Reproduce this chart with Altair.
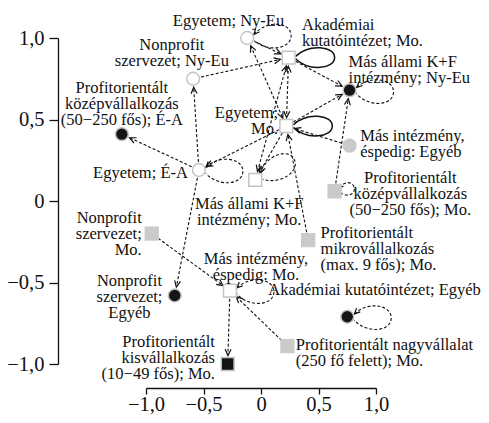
import math
import altair as alt
import pandas as pd

# ---------------- data ----------------
node_id = ["egy_nyeu", "akad_mo", "nonp_nyeu", "masall_nyeu", "kozep_ea", "egy_mo",
           "masint_egyeb", "egy_ea", "masall_mo", "kozep_mo", "nonp_mo", "mikro_mo",
           "masint_mo", "nonp_egyeb", "akad_egyeb", "nagy_mo", "kis_mo"]
node_label = [
    "Egyetem; Ny-Eu",
    "Akadémiai\nkutatóintézet; Mo.",
    "Nonprofit\nszervezet; Ny-Eu",
    "Más állami K+F\nintézmény; Ny-Eu",
    "Profitorientált\nközépvállalkozás\n(50−250 fős); É-A",
    "Egyetem;\nMo.",
    "Más intézmény,\néspedig: Egyéb",
    "Egyetem; É-A",
    "Más állami K+F\nintézmény; Mo.",
    "Profitorientált\nközépvállalkozás\n(50−250 fős); Mo.",
    "Nonprofit\nszervezet;\nMo.",
    "Profitorientált\nmikrovállalkozás\n(max. 9 fős); Mo.",
    "Más intézmény,\néspedig: Mo.",
    "Nonprofit\nszervezet;\nEgyéb",
    "Akadémiai kutatóintézet; Egyéb",
    "Profitorientált nagyvállalat\n(250 fő felett); Mo.",
    "Profitorientált\nkisvállalkozás\n(10−49 fős); Mo.",
]
node_x = [-0.12, 0.24, -0.59, 0.77, -1.21, 0.22, 0.77, -0.54, -0.05, 0.64,
          -0.95, 0.41, -0.27, -0.75, 0.75, 0.23, -0.29]
node_y = [1.00, 0.88, 0.75, 0.68, 0.41, 0.46, 0.34, 0.19, 0.13, 0.06,
          -0.20, -0.24, -0.55, -0.58, -0.71, -0.89, -1.00]
node_tone = ["fehér", "fehér", "fehér", "fekete", "fekete", "fehér", "szürke", "fehér",
             "fehér", "szürke", "szürke", "szürke", "fehér", "fekete", "fekete", "szürke", "fekete"]

edge_from = ["egy_nyeu", "egy_nyeu", "egy_mo", "nonp_nyeu", "egy_ea", "egy_ea", "egy_mo",
             "egy_ea", "akad_mo", "egy_mo", "kozep_mo", "masint_egyeb", "akad_mo", "egy_mo",
             "masall_mo", "akad_mo", "egy_mo", "mikro_mo", "nonp_mo", "masint_mo", "nagy_mo"]
edge_to = ["akad_mo", "egy_mo", "egy_nyeu", "akad_mo", "nonp_nyeu", "kozep_ea", "egy_ea",
           "nonp_egyeb", "masall_nyeu", "masall_nyeu", "masall_nyeu", "egy_mo", "egy_mo", "akad_mo",
           "akad_mo", "masall_mo", "masall_mo", "egy_mo", "masint_mo", "kis_mo", "masint_mo"]

loop_node = ["egy_nyeu", "masall_nyeu", "egy_ea", "masall_mo", "masint_mo", "akad_egyeb",
             "kozep_mo", "akad_mo", "egy_mo"]
loop_kind = ["szaggatott"] * 6 + ["kicsi"] + ["folytonos"] * 2

tick_values = [-1.0, -0.5, 0.0, 0.5, 1.0]

# ---------------- layout / style (not data) ----------------
W, H = 230, 326
PX, PY = W / 2, H / 2
loop_angle = [356, 3, 2, 332, 2, 2, 350, 0, 0]
lab_align = ["center", "left", "center", "left", "center", "right", "left", "right", "center",
             "center", "right", "left", "center", "center", "left", "left", "right"]
lab_dx = [-18.7, 13.4, -21.3, -1, 0, -8.2, 10.7, -11, -6, 75.7, -10, 12.4, 26, -45.3, -79, 8.4, -12.7]
lab_dy = [-17.3, -32.3, -33.3, -28.3, -46.6, -13.3, -10, 3, 24, -13.6, -15.3, -6.7, -31.3, -15,
          -26.7, -0.7, -21.6]

FONT = "Liberation Serif"
INK = "#111111"
CHEVRON = "M-0.75,1.6L0,0L0.75,1.6"
LOOP = "M0.32,-0.14C0.9,-0.75 2.0,-0.62 2.0,0C2.0,0.62 0.9,0.75 0.32,0.14"
LOOP_HEAD = "M0.581,-0.242L0.32,-0.14L0.409,-0.405"
LOOP_SOLID = "M0.3,-0.05C0.9,-0.62 2.0,-0.5 2.0,0C2.0,0.5 0.9,0.62 0.3,0.05"
SMALL_LOOP = "M0.55,-0.25C1.2,-0.9 2.0,-0.62 2.0,0C2.0,0.62 1.2,0.9 0.55,0.25"
SMALL_HEAD = "M0.95,-0.35L0.55,-0.25L0.72,-0.62"


def to_px(x, y):
    return (x + 1) * PX, (1 - y) * PY


def to_data(px, py):
    return px / PX - 1, 1 - py / PY


pos = {n: (x, y) for n, x, y in zip(node_id, node_x, node_y)}

nodes = pd.DataFrame({
    "id": node_id, "x": node_x, "y": node_y, "tone": node_tone,
    "forma": ["négyzet" if l.endswith("Mo.") else "kör" for l in node_label],
})

directed = set(zip(edge_from, edge_to))
line_rows, head_rows, seen = [], [], set()
for a, b in zip(edge_from, edge_to):
    p1 = to_px(*pos[a])
    p2 = to_px(*pos[b])
    dx, dy = p2[0] - p1[0], p2[1] - p1[1]
    L = math.hypot(dx, dy)
    ux, uy = dx / L, dy / L
    tip = to_data(p2[0] - ux * 8.5, p2[1] - uy * 8.5)
    head_rows.append({"hx": tip[0], "hy": tip[1],
                      "ang": math.degrees(math.atan2(ux, -uy)) % 360})
    key = frozenset((a, b))
    if key in seen:
        continue
    seen.add(key)
    s0 = 8.5 if (b, a) in directed else 8
    s = to_data(p1[0] + ux * s0, p1[1] + uy * s0)
    line_rows.append({"x1": s[0], "y1": s[1], "x2": tip[0], "y2": tip[1]})
lines = pd.DataFrame(line_rows)
heads = pd.DataFrame(head_rows)

loops = pd.DataFrame({
    "x": [pos[n][0] for n in loop_node],
    "y": [pos[n][1] for n in loop_node],
    "ang": loop_angle,
    "kind": loop_kind,
})

lab_rows = []
for i, lab in enumerate(node_label):
    px, py = to_px(node_x[i], node_y[i])
    lx, ly = to_data(px + lab_dx[i], py + lab_dy[i])
    lab_rows.append({"lx": lx, "ly": ly, "label": lab, "align": lab_align[i]})
labels = pd.DataFrame(lab_rows)

# ---------------- chart ----------------
xs = alt.Scale(domain=[-1, 1], nice=False, zero=False)
ys = alt.Scale(domain=[-1, 1], nice=False, zero=False)
label_expr = "datum.value == 0 ? '0' : replace(replace(format(datum.value, '.1f'), '.', ','), '-', '−')"
x_axis = alt.Axis(values=tick_values, offset=24, tickSize=6, tickWidth=1.3, domainWidth=1.3,
                  domainColor=INK, tickColor=INK, grid=False, labelExpr=label_expr,
                  labelFont=FONT, labelFontSize=20.5, labelColor=INK, labelPadding=0,
                  labelFlush=False, labelOverlap=False, title="")
y_axis = alt.Axis(values=tick_values, offset=88, tickSize=9, tickWidth=1.3, domainWidth=1.3,
                  domainColor=INK, tickColor=INK, grid=False, labelExpr=label_expr,
                  labelFont=FONT, labelFontSize=20.5, labelColor=INK, labelPadding=5,
                  labelOverlap=False, title="")


def X(f):
    return alt.X(f, type="quantitative", scale=xs, axis=x_axis)


def Y(f):
    return alt.Y(f, type="quantitative", scale=ys, axis=y_axis)


edge_lines = alt.Chart(lines).mark_rule(strokeDash=[3, 2], strokeWidth=1.1, color=INK).encode(
    x=X("x1"), y=Y("y1"), x2="x2:Q", y2="y2:Q")
edge_heads = alt.Chart(heads).mark_point(shape=CHEVRON, filled=False, size=64, strokeWidth=1.2,
                                         color=INK, opacity=1).encode(
    x=X("hx"), y=Y("hy"), angle=alt.Angle("ang:Q", scale=None))

dashed = loops[loops.kind == "szaggatott"]
small = loops[loops.kind == "kicsi"]
solid = loops[loops.kind == "folytonos"]
loop_d = alt.Chart(dashed).mark_point(shape=LOOP, filled=False, size=1936, strokeDash=[3, 2],
                                      strokeWidth=1.1, color=INK, opacity=1).encode(
    x=X("x"), y=Y("y"), angle=alt.Angle("ang:Q", scale=None))
loop_h = alt.Chart(dashed).mark_point(shape=LOOP_HEAD, filled=False, size=1936, strokeWidth=1.2,
                                      color=INK, opacity=1).encode(
    x=X("x"), y=Y("y"), angle=alt.Angle("ang:Q", scale=None))
loop_sm = alt.Chart(small).mark_point(shape=SMALL_LOOP, filled=False, size=400, strokeDash=[3, 2],
                                      strokeWidth=1.1, color=INK, opacity=1).encode(
    x=X("x"), y=Y("y"), angle=alt.Angle("ang:Q", scale=None))
loop_smh = alt.Chart(small).mark_point(shape=SMALL_HEAD, filled=False, size=400, strokeWidth=1.2,
                                       color=INK, opacity=1).encode(
    x=X("x"), y=Y("y"), angle=alt.Angle("ang:Q", scale=None))
loop_s = alt.Chart(solid).mark_point(shape=LOOP_SOLID, filled=False, size=2116, strokeWidth=1.5,
                                     color=INK, opacity=1).encode(
    x=X("x"), y=Y("y"), angle=alt.Angle("ang:Q", scale=None))

node_marks = alt.Chart(nodes).mark_point(filled=True, size=165, strokeWidth=1.5, opacity=1).encode(
    x=X("x"), y=Y("y"),
    shape=alt.Shape("forma:N", scale=alt.Scale(domain=["kör", "négyzet"], range=["circle", "square"]),
                    legend=None),
    fill=alt.Fill("tone:N", scale=alt.Scale(domain=["fehér", "fekete", "szürke"],
                                            range=["#ffffff", "#151515", "#cacaca"]), legend=None),
    stroke=alt.Stroke("tone:N", scale=alt.Scale(domain=["fehér", "fekete", "szürke"],
                                                range=["#c4c4c4", "#c4c4c4", "#cacaca"]), legend=None),
)

text_layers = []
for al in ["left", "center", "right"]:
    text_layers.append(
        alt.Chart(labels).transform_filter(alt.datum.align == al).mark_text(
            align=al, baseline="middle", font=FONT, fontSize=16.5, lineHeight=16,
            lineBreak="\n", color=INK).encode(x=X("lx"), y=Y("ly"), text="label:N"))

chart = alt.layer(edge_lines, edge_heads, loop_d, loop_h, loop_sm, loop_smh, loop_s, node_marks,
                  *text_layers).properties(
    width=W, height=H,
    autosize=alt.AutoSizeParams(type="none"),
    padding={"left": 138, "top": 30, "right": 105, "bottom": 53},
).configure_view(stroke=None)

chart.save("out.html", embed_options={"renderer": "svg", "actions": False})
